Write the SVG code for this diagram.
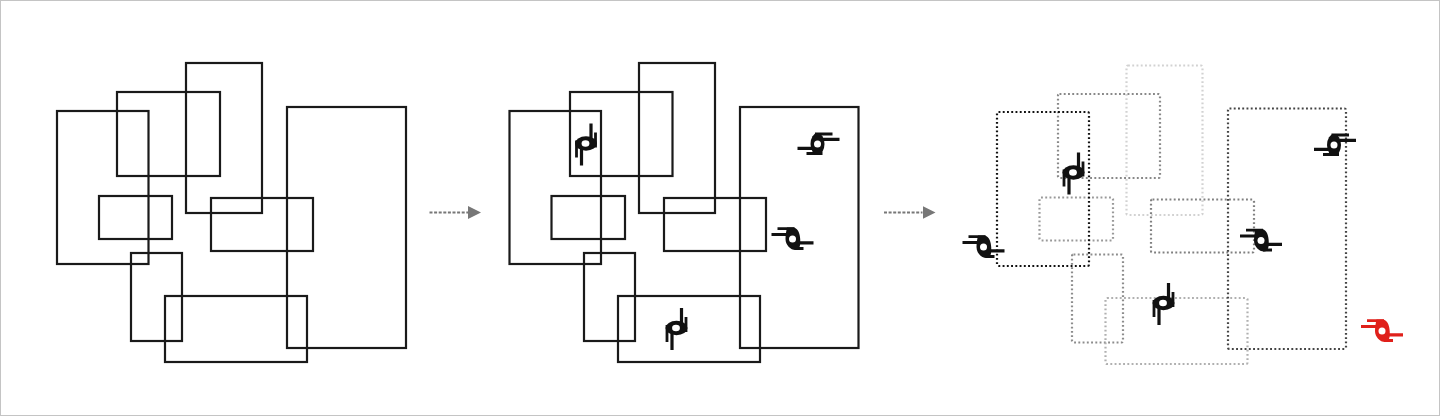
<svg xmlns="http://www.w3.org/2000/svg" width="1440" height="416" viewBox="0 0 1440 416">
<style>
.s{fill:none;stroke:#1a1a1a;stroke-width:2.2}
.d{fill:none;stroke-width:2.2;stroke-dasharray:1.900 2.350}
.ar{fill:none;stroke:#777;stroke-width:2;stroke-dasharray:3 1.6}
.l{stroke:currentColor;fill:none}
</style>
<defs>
<g id="ga">
<path class="l" stroke-width="3.200" d="M-20 4.300H-3M5-4.700H22"/>
<path class="l" stroke-width="2.800" d="M-2.500-10H15M-11 9.500H5"/>
<ellipse cx="0" cy="0" rx="7" ry="11" fill="currentColor"/>
<circle cx="0" cy="0" r="3.500" fill="#fff"/>
</g>
<g id="gb">
<path class="l" stroke-width="3.200" d="M-21-4.500H-3M5 3.800H21"/>
<path class="l" stroke-width="2.800" d="M-15-10.300H2M2 9.500H11"/>
<path fill="currentColor" d="M-5.500-11.600H1.500C6-10 7.500-5 7.700 0C8 6 7.500 11 3 11C-2 11-7 6-7 0C-7-4-6.500-7-5.500-11.600Z"/>
<circle cx="0" cy="0" r="3.500" fill="#fff"/>
</g>
<g id="gc">
<path class="l" stroke-width="3.200" d="M5.500-20V-4M-4 4V22"/>
<path class="l" stroke-width="2.800" d="M10-11V4M-9-3V14"/>
<ellipse cx="0.500" cy="0" rx="11" ry="7.200" fill="currentColor"/>
<ellipse cx="0" cy="0" rx="3.900" ry="3.300" fill="#fff"/>
</g>
<marker id="ah" markerUnits="userSpaceOnUse" markerWidth="13" markerHeight="13" refX="0" refY="6.500" orient="auto"><path d="M0 0L13 6.500L0 13Z" fill="#777"/></marker>
</defs>
<rect x="0.500" y="0.500" width="1439" height="415" fill="#fff" stroke="#c4c4c4"/>
<g id="panel-1">
<rect id="p1-a" class="s" x="57" y="111" width="91.500" height="153"/>
<rect id="p1-b" class="s" x="117" y="92" width="103" height="84"/>
<rect id="p1-c" class="s" x="186" y="63" width="76" height="150"/>
<rect id="p1-d" class="s" x="287" y="107" width="119" height="241"/>
<rect id="p1-e" class="s" x="99" y="196" width="73" height="43"/>
<rect id="p1-f" class="s" x="211" y="198" width="102" height="53"/>
<rect id="p1-g" class="s" x="131" y="253" width="51" height="88"/>
<rect id="p1-h" class="s" x="165" y="296" width="142" height="66"/>
</g>
<g id="panel-2">
<rect id="p2-a" class="s" x="509.500" y="111" width="91.500" height="153"/>
<rect id="p2-b" class="s" x="570" y="92" width="102.500" height="84"/>
<rect id="p2-c" class="s" x="639" y="63" width="76" height="150"/>
<rect id="p2-d" class="s" x="740" y="107" width="118.500" height="241"/>
<rect id="p2-e" class="s" x="551.500" y="196" width="73.500" height="43"/>
<rect id="p2-f" class="s" x="664" y="198" width="102" height="53"/>
<rect id="p2-g" class="s" x="584" y="253" width="51" height="88"/>
<rect id="p2-h" class="s" x="618" y="296" width="142" height="66"/>
<use id="p2-m1" href="#gc" x="585.500" y="143.500" color="#111"/>
<use id="p2-m2" href="#ga" x="817.500" y="144" color="#111"/>
<use id="p2-m3" href="#gb" x="792.500" y="239" color="#111"/>
<use id="p2-m4" href="#gc" x="676" y="328" color="#111"/>
</g>
<g id="panel-3">
<rect id="p3-c" class="d" stroke="#d2d2d2" x="1126.500" y="65.500" width="76" height="149.500" rx="1.500"/>
<rect id="p3-b" class="d" stroke="#888" x="1058" y="94" width="102" height="84" rx="1.500"/>
<rect id="p3-e" class="d" stroke="#999" x="1039.500" y="197.500" width="73.500" height="43" rx="1.500"/>
<rect id="p3-f" class="d" stroke="#808080" x="1151" y="199.500" width="103" height="53" rx="1.500"/>
<rect id="p3-g" class="d" stroke="#8c8c8c" x="1072" y="254.500" width="51" height="88" rx="1.500"/>
<rect id="p3-h" class="d" stroke="#b0b0b0" x="1105.500" y="298" width="142" height="66" rx="1.500"/>
<rect id="p3-d" class="d" stroke="#444" x="1228" y="108.500" width="118" height="240.500" rx="1.500"/>
<rect id="p3-a" class="d" stroke="#111" x="997" y="112" width="92" height="154" rx="1.500"/>
<use id="p3-m1" href="#gc" x="1073" y="172.500" color="#111"/>
<use id="p3-m2" href="#ga" x="1334" y="145" color="#111"/>
<use id="p3-m3" href="#gb" x="983.500" y="247" color="#111"/>
<use id="p3-m4" href="#gb" x="1261" y="240.500" color="#111"/>
<use id="p3-m5" href="#gc" x="1163" y="303" color="#111"/>
<use id="p3-m6" href="#gb" x="1382" y="331" color="#e0201b"/>
</g>
<g id="connectors">
<path class="ar" d="M429.500 212.500H468" marker-end="url(#ah)"/>
<path class="ar" d="M884 212.500H922.500" marker-end="url(#ah)"/>
</g>
</svg>
